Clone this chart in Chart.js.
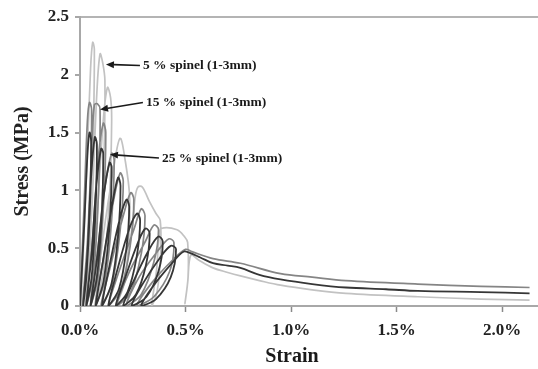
<!DOCTYPE html>
<html>
<head>
<meta charset="utf-8">
<script src="https://cdn.jsdelivr.net/npm/chart.js@4/dist/chart.umd.min.js"></script>
<style>
  html, body { margin: 0; padding: 0; background: #fff; }
  #wrap { width: 538px; height: 369px; position: relative; }
</style>
</head>
<body>
<div id="wrap"><canvas id="stressChart"></canvas></div>
<script>
// strain in %, stress in MPa
var strain5 = [
  0.005, 0.030, 0.050, 0.060, 0.068, 0.062, 0.045, 0.025,
  0.055, 0.080, 0.095, 0.108, 0.118, 0.112, 0.085, 0.050,
  0.080, 0.110, 0.130, 0.145, 0.150, 0.140, 0.110, 0.075,
  0.110, 0.160, 0.190, 0.215, 0.235, 0.232, 0.210, 0.170,
  0.215, 0.250, 0.262, 0.275, 0.295, 0.330, 0.360, 0.380, 0.382, 0.365, 0.340,
  0.362, 0.375, 0.385, 0.460, 0.495, 0.510, 0.512, 0.497,
  0.510, 0.525,
  0.560, 0.630, 0.700, 0.760, 0.850, 0.950, 1.100, 1.260, 1.600, 1.900, 2.130
];
var stress5 = [
  0.00, 1.10, 2.05, 2.28, 2.22, 1.40, 0.40, 0.00,
  0.80, 1.85, 2.18, 2.10, 1.95, 1.20, 0.35, 0.00,
  0.75, 1.60, 1.89, 1.80, 1.60, 0.95, 0.30, 0.00,
  0.60, 1.20, 1.45, 1.25, 0.95, 0.60, 0.20, 0.00,
  0.30, 0.72, 0.95, 1.03, 1.03, 0.90, 0.80, 0.74, 0.45, 0.12, 0.00,
  0.30, 0.60, 0.67, 0.66, 0.60, 0.55, 0.25, 0.02,
  0.20, 0.44,
  0.40, 0.33, 0.29, 0.26, 0.22, 0.18, 0.14, 0.11, 0.08, 0.06, 0.05
];

var strain15 = [
  0.000, 0.020, 0.035, 0.045, 0.055, 0.048, 0.030, 0.012,
  0.035, 0.055, 0.068, 0.082, 0.095, 0.088, 0.065, 0.030,
  0.058, 0.085, 0.110, 0.122, 0.112, 0.085, 0.050,
  0.082, 0.120, 0.150, 0.162, 0.150, 0.118, 0.072,
  0.110, 0.158, 0.190, 0.205, 0.190, 0.150, 0.100,
  0.145, 0.205, 0.240, 0.255, 0.240, 0.195, 0.135,
  0.185, 0.255, 0.290, 0.308, 0.290, 0.240, 0.175,
  0.230, 0.310, 0.350, 0.372, 0.350, 0.290, 0.220,
  0.280, 0.370, 0.420, 0.445, 0.425, 0.350, 0.270,
  0.340, 0.440, 0.500,
  0.530, 0.630, 0.760, 0.950, 1.100, 1.260, 1.600, 1.900, 2.130
];
var stress15 = [
  0.00, 0.90, 1.60, 1.76, 1.70, 0.95, 0.30, 0.00,
  0.55, 1.35, 1.74, 1.75, 1.70, 1.00, 0.30, 0.00,
  0.55, 1.25, 1.58, 1.50, 0.90, 0.25, 0.00,
  0.45, 1.05, 1.32, 1.26, 0.75, 0.22, 0.00,
  0.40, 0.90, 1.15, 1.08, 0.65, 0.18, 0.00,
  0.35, 0.78, 0.98, 0.92, 0.55, 0.15, 0.00,
  0.30, 0.66, 0.84, 0.78, 0.45, 0.12, 0.00,
  0.28, 0.56, 0.70, 0.66, 0.38, 0.10, 0.00,
  0.25, 0.48, 0.58, 0.55, 0.30, 0.08, 0.00,
  0.20, 0.40, 0.49,
  0.47, 0.41, 0.37, 0.28, 0.25, 0.22, 0.19, 0.17, 0.16
];

var strain25 = [
  0.000, 0.020, 0.035, 0.045, 0.053, 0.046, 0.030, 0.015,
  0.035, 0.052, 0.070, 0.080, 0.073, 0.055, 0.030,
  0.055, 0.078, 0.100, 0.110, 0.102, 0.080, 0.050,
  0.080, 0.112, 0.140, 0.150, 0.140, 0.112, 0.075,
  0.108, 0.150, 0.180, 0.192, 0.180, 0.150, 0.105,
  0.140, 0.188, 0.220, 0.233, 0.220, 0.185, 0.135,
  0.175, 0.232, 0.270, 0.285, 0.268, 0.225, 0.170,
  0.215, 0.275, 0.310, 0.330, 0.312, 0.265, 0.205,
  0.255, 0.325, 0.370, 0.392, 0.372, 0.315, 0.245,
  0.300, 0.380, 0.430, 0.455, 0.430, 0.360, 0.290,
  0.350, 0.440, 0.490,
  0.520, 0.570, 0.630, 0.700, 0.760, 0.850, 0.950, 1.100, 1.260, 1.450, 1.600, 1.900, 2.130
];
var stress25 = [
  0.00, 0.70, 1.30, 1.50, 1.42, 0.80, 0.25, 0.00,
  0.45, 1.10, 1.46, 1.40, 0.80, 0.25, 0.00,
  0.45, 1.05, 1.36, 1.32, 0.75, 0.25, 0.00,
  0.40, 0.95, 1.24, 1.20, 0.70, 0.22, 0.00,
  0.38, 0.85, 1.11, 1.04, 0.60, 0.20, 0.00,
  0.35, 0.75, 0.92, 0.86, 0.50, 0.15, 0.00,
  0.30, 0.66, 0.80, 0.74, 0.42, 0.12, 0.00,
  0.25, 0.55, 0.67, 0.63, 0.35, 0.10, 0.00,
  0.22, 0.48, 0.60, 0.56, 0.30, 0.08, 0.00,
  0.20, 0.42, 0.52, 0.49, 0.25, 0.06, 0.00,
  0.18, 0.38, 0.47,
  0.46, 0.42, 0.37, 0.35, 0.33, 0.27, 0.23, 0.19, 0.16, 0.145, 0.13, 0.12, 0.11
];

// label text, arrow tip and arrow tail in (strain, stress)
var labelTexts = ['5 % spinel (1-3mm)', '15 % spinel (1-3mm)', '25 % spinel (1-3mm)'];
var labelTip = [[0.123, 2.09], [0.095, 1.70], [0.142, 1.31]];
var labelTail = [[0.284, 2.08], [0.298, 1.76], [0.374, 1.28]];

function toPoints(xs, ys) {
  var pts = [];
  for (var i = 0; i < xs.length; i++) pts.push({ x: xs[i], y: ys[i] });
  return pts;
}

var serif = '"Times New Roman", "Liberation Serif", serif';

var labelPlugin = {
  id: 'spinelLabels',
  afterDraw: function (chart) {
    var ctx = chart.ctx;
    var xs = chart.scales.x, ys = chart.scales.y;
    ctx.save();
    ctx.strokeStyle = '#1a1a1a';
    ctx.fillStyle = '#1a1a1a';
    ctx.lineWidth = 1.6;
    for (var i = 0; i < labelTexts.length; i++) {
      var tx = xs.getPixelForValue(labelTip[i][0]), ty = ys.getPixelForValue(labelTip[i][1]);
      var sx = xs.getPixelForValue(labelTail[i][0]), sy = ys.getPixelForValue(labelTail[i][1]);
      var ang = Math.atan2(ty - sy, tx - sx);
      var hx = tx - 8 * Math.cos(ang), hy = ty - 8 * Math.sin(ang);
      ctx.beginPath();
      ctx.moveTo(sx, sy);
      ctx.lineTo(hx, hy);
      ctx.stroke();
      ctx.beginPath();
      ctx.moveTo(tx, ty);
      ctx.lineTo(hx + 3.5 * Math.sin(ang), hy - 3.5 * Math.cos(ang));
      ctx.lineTo(hx - 3.5 * Math.sin(ang), hy + 3.5 * Math.cos(ang));
      ctx.closePath();
      ctx.fill();
      ctx.font = 'bold 13.5px ' + serif;
      ctx.textAlign = 'left';
      ctx.textBaseline = 'middle';
      ctx.fillText(labelTexts[i], sx + 3, sy);
    }
    // x axis title
    ctx.font = 'bold 20px ' + serif;
    ctx.textAlign = 'center';
    ctx.textBaseline = 'middle';
    ctx.fillText('Strain', 292, 357);
    ctx.restore();
  }
};

var ctx = document.getElementById('stressChart').getContext('2d');
var myChart = new Chart(ctx, {
  type: 'line',
  data: {
    datasets: [
      { label: '25 % spinel (1-3mm)', data: toPoints(strain25, stress25), borderColor: '#363636', borderWidth: 1.8 },
      { label: '15 % spinel (1-3mm)', data: toPoints(strain15, stress15), borderColor: '#858585', borderWidth: 1.7 },
      { label: '5 % spinel (1-3mm)', data: toPoints(strain5, stress5), borderColor: '#c2c2c2', borderWidth: 1.7 }
    ]
  },
  options: {
    responsive: true,
    maintainAspectRatio: false,
    animation: false,
    elements: {
      point: { radius: 0 },
      line: { tension: 0.35, fill: false }
    },
    layout: { padding: { top: 17, right: 0, left: 0, bottom: 0 } },
    scales: {
      x: {
        type: 'linear',
        min: 0,
        max: 2.17,
        border: { color: '#a8a8a8', width: 2 },
        grid: { color: 'rgba(0,0,0,0)', tickColor: '#8a8a8a', tickLength: 6, tickWidth: 1.5 },
        ticks: {
          stepSize: 0.5,
          includeBounds: false,
          padding: 8,
          color: '#222',
          font: { family: serif, size: 17, weight: 'bold' },
          maxRotation: 0,
          callback: function (v) { return v.toFixed(1) + '%'; }
        },
        afterFit: function (scale) { scale.height = 63; }
      },
      y: {
        min: 0,
        max: 2.5,
        border: { color: '#a8a8a8', width: 2 },
        grid: {
          color: function (c) { return c.tick && c.tick.value === 2.5 ? '#b4b4b4' : 'rgba(0,0,0,0)'; },
          lineWidth: 2,
          tickColor: '#8a8a8a',
          tickLength: 5,
          tickWidth: 1.5
        },
        ticks: {
          stepSize: 0.5,
          padding: 6,
          color: '#222',
          font: { family: serif, size: 17, weight: 'bold' },
          callback: function (v) { return String(Math.round(v * 10) / 10); }
        },
        title: {
          display: true,
          text: 'Stress (MPa)',
          color: '#222',
          font: { family: serif, size: 20, weight: 'bold' },
          padding: { top: 11, bottom: 0 }
        },
        afterFit: function (scale) { scale.width = 80; }
      }
    },
    plugins: {
      legend: { display: false },
      tooltip: { enabled: false }
    }
  },
  plugins: [labelPlugin]
});
</script>
</body>
</html>
